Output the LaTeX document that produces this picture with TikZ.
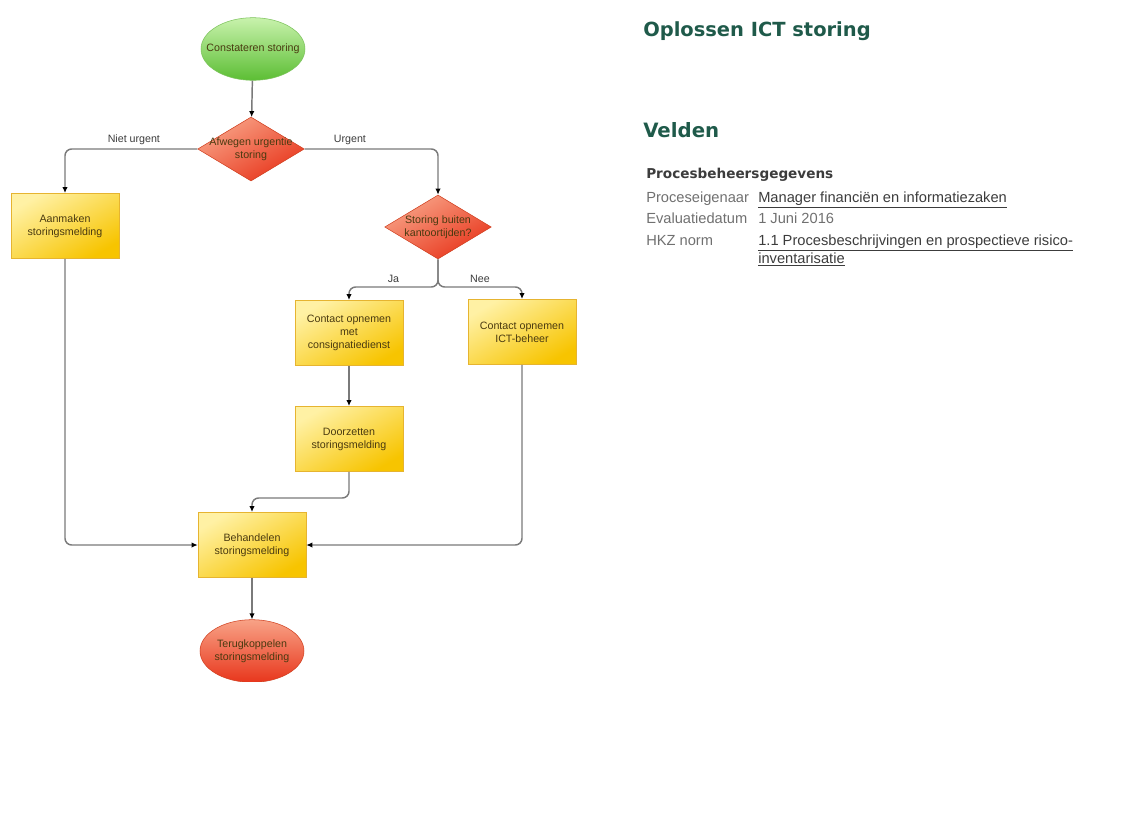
\documentclass[tikz,border=0pt]{standalone}
\usepackage{fontspec}
\setmainfont{Liberation Sans}
\newfontfamily\verdanafont{DejaVu Sans}
\usetikzlibrary{shapes.geometric,arrows.meta}

\definecolor{flowline}{HTML}{7A7A7A}
\definecolor{greenlight}{HTML}{C8F2AC}
\definecolor{greendark}{HTML}{5CBE34}
\definecolor{greenedge}{HTML}{7CC25C}
\definecolor{redlight}{HTML}{F8A286}
\definecolor{reddark}{HTML}{E8361C}
\definecolor{rededge}{HTML}{D04020}
\definecolor{yellowlight}{HTML}{FFF1A4}
\definecolor{yellowdark}{HTML}{F7C400}
\definecolor{yellowedge}{HTML}{E6B430}
\definecolor{titlegreen}{HTML}{1F5A4A}
\definecolor{fieldgray}{HTML}{707070}
\definecolor{valuegray}{HTML}{3C3C3C}
\definecolor{shapetext}{HTML}{4A3A10}

\begin{document}
\begin{tikzpicture}[x=0.75pt,y=-0.75pt,
    shapetxt/.style={font=\fontsize{8}{9.75}\selectfont, text=shapetext, align=center},
    terminal/.style={ellipse, minimum width=78pt, minimum height=47pt, inner sep=0pt},
    decision/.style={diamond, minimum width=80pt, minimum height=48pt, inner sep=0pt,
      draw=rededge, top color=redlight, bottom color=reddark, shading angle=30},
    flow/.style={draw=flowline, line width=1.1pt, rounded corners=5pt,
      -{Latex[length=4.5pt,width=4pt,color=black]}},
    flowlabel/.style={font=\fontsize{8}{9.75}\selectfont, text=valuegray, above, inner sep=3pt}]

  \useasboundingbox (0,0) rectangle (1122,814);

  \begin{scope}
    \clip (0,0) rectangle (620,681);

    \node[terminal, draw=greenedge, top color=greenlight, bottom color=greendark,
      label={[shapetxt]center:Constateren storing}] (start) at (253,49) {};
    \node[decision, label={[shapetxt]center:Afwegen urgentie\\storing}] (urgentie) at (251,149) {};
    \node[decision, label={[shapetxt]center:Storing buiten\\kantoortijden?}] (kantoortijd) at (438,227) {};
    \node[terminal, draw=rededge, top color=redlight, bottom color=reddark,
      label={[shapetxt]center:Terugkoppelen\\storingsmelding}] (terug) at (252,651) {};

    \begin{scope}[every node/.style={shapetxt, draw=yellowedge, top color=yellowlight,
        bottom color=yellowdark, shading angle=30, minimum width=81pt, minimum height=49pt, inner sep=2pt}]
      \node (aanmaken)   at (65,226)  {Aanmaken\\storingsmelding};
      \node (consig)     at (349,333) {Contact opnemen\\met\\consignatiedienst};
      \node (ictbeheer)  at (522,332) {Contact opnemen\\ICT-beheer};
      \node (doorzetten) at (349,439) {Doorzetten\\storingsmelding};
      \node (behandelen) at (252,545) {Behandelen\\storingsmelding};
    \end{scope}

    \coordinate (splits) at (438,287);
    \coordinate (samen)  at (349,498);

    \draw[flow] (start) -- (urgentie);
    \draw[flow] (urgentie.west) -| (aanmaken.north) node[flowlabel, pos=0.24] {Niet urgent};
    \draw[flow] (urgentie.east) -| (kantoortijd.north) node[flowlabel, pos=0.17] {Urgent};
    \draw[flow] (kantoortijd.south) -- (splits) -| (consig.north) node[flowlabel, pos=0.25] {Ja};
    \draw[flow] (kantoortijd.south) -- (splits) -| (ictbeheer.north) node[flowlabel, pos=0.25] {Nee};
    \draw[flow] (consig) -- (doorzetten);
    \draw[flow] (doorzetten.south) -- (samen) -| (behandelen.north);
    \draw[flow] (aanmaken.south) |- (behandelen.west);
    \draw[flow] (ictbeheer.south) |- (behandelen.east);
    \draw[flow] (behandelen) -- (terug);
  \end{scope}

  \begin{scope}[every node/.style={anchor=base west, inner sep=0pt}]
    \node[font=\verdanafont\bfseries\fontsize{14.6}{17}\selectfont, text=titlegreen] (titel) at (643,36) {Oplossen ICT storing};
    \node[font=\verdanafont\bfseries\fontsize{14.8}{17}\selectfont, text=titlegreen] (velden) at (643,137) {Velden};
    \node[font=\verdanafont\bfseries\fontsize{10.2}{12}\selectfont, text=valuegray] (groep) at (646,178) {Procesbeheersgegevens};
  \end{scope}

  \begin{scope}[every node/.style={anchor=base west, inner sep=0pt, font=\fontsize{11}{13}\selectfont, text=fieldgray}]
    \node (eigenaar)   at (646,202) {Proceseigenaar};
    \node (datum)      at (646,223) {Evaluatiedatum};
    \node (norm)       at (646,245) {HKZ norm};
    \node[text=valuegray] (eigenaarw) at (758,202) {\underline{Manager financiën en informatiezaken}};
    \node (datumw)     at (758,223) {1 Juni 2016};
    \node[text=valuegray] (normw)  at (758,245) {\underline{1.1 Procesbeschrijvingen en prospectieve risico-}};
    \node[text=valuegray] (normw2) at (758,263) {\underline{inventarisatie}};
  \end{scope}

\end{tikzpicture}
\end{document}
